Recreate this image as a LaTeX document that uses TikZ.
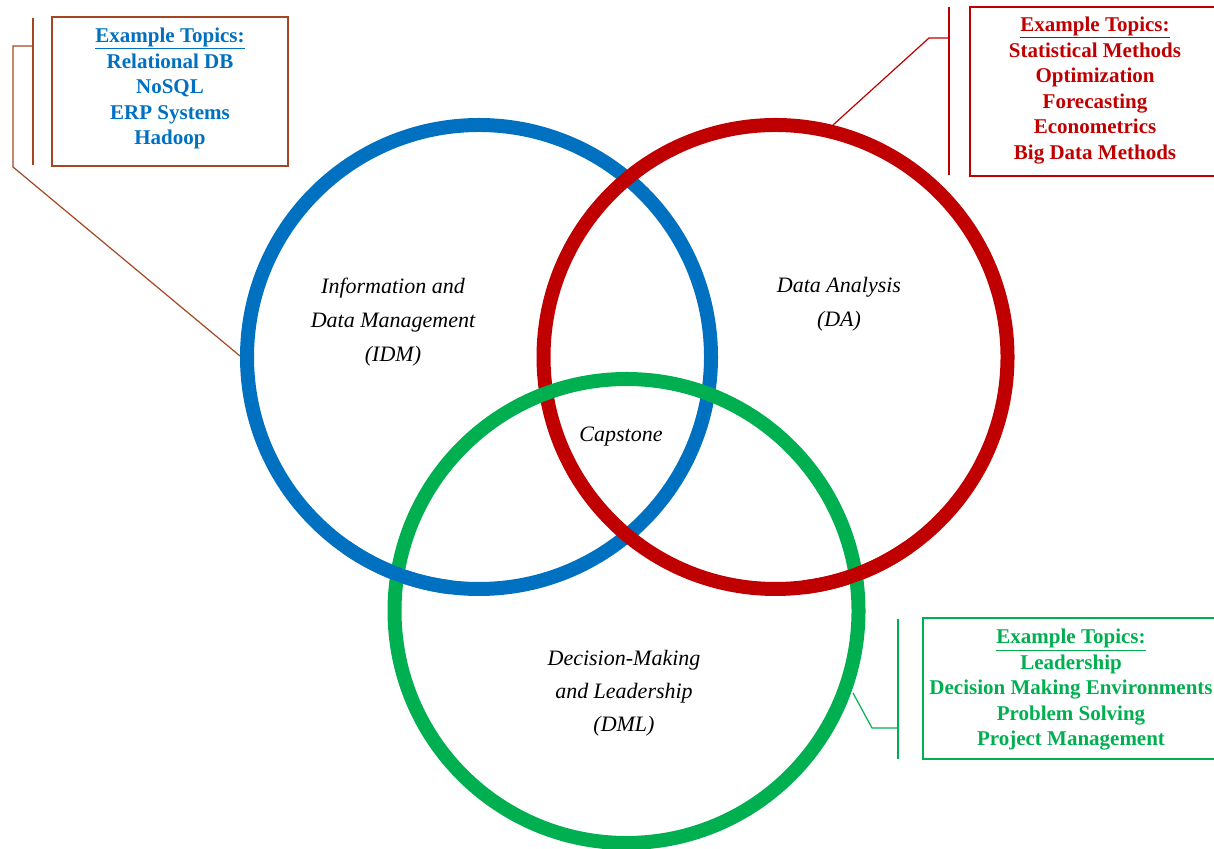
\documentclass[tikz,border=0pt]{standalone}
\usepackage{fontspec}
\setmainfont{Liberation Serif}
\definecolor{idmblue}{RGB}{0,112,192}
\definecolor{dared}{RGB}{192,0,0}
\definecolor{dmlgreen}{RGB}{0,176,80}
\definecolor{brownline}{RGB}{165,70,35}
\tikzset{
  ring/.style={circle, draw=#1, line width=14pt, minimum size=464pt, inner sep=0pt, outer sep=0pt},
  topicbox/.style={draw=#1, line width=1.5pt, inner sep=0pt},
  topictext/.style={text=#1, font=\fontsize{21}{25.5}\selectfont\bfseries, align=center, inner sep=0pt},
  circlabel/.style={font=\fontsize{22}{34}\selectfont\itshape, align=center, inner sep=0pt},
  calloutline/.style={draw=#1, line width=1.2pt},
}
\begin{document}
\begin{tikzpicture}[x=1pt,y=1pt]
\useasboundingbox (0,0) rectangle (1214,848);
% circles
\node[ring=idmblue] (idm) at (479,491) {};
\node[ring=dared] (da) at (775.5,491) {};
\node[ring=dmlgreen] (dml) at (626.5,237) {};
% interlocking redraws
\draw[idmblue, line width=14pt] (idm.center) ++(-125:232) arc[start angle=-125, end angle=-97, radius=232];
\draw[dared, line width=14pt] (da.center) ++(-83:232) arc[start angle=-83, end angle=-55, radius=232];

% circle labels
\node[circlabel] (idmlab) at (393,526) {Information and\\Data Management\\(IDM)};
\node[circlabel] (dalab) at (839,543.5) {Data Analysis\\(DA)};
\node[circlabel] (caplab) at (621,411) {Capstone};
\node[circlabel, font=\fontsize{22}{33}\selectfont\itshape] (dmllab) at (624,155) {Decision-Making\\and Leadership\\(DML)};

% IDM callout
\node[topicbox=brownline, minimum width=236pt, minimum height=149pt] (idmbox) at (170,756.5) {};
\node[topictext=idmblue] (idmtxt) at (170,759.5) {\underline{Example Topics:}\\Relational DB\\NoSQL\\ERP Systems\\Hadoop};
\coordinate (idmbarT) at (33,830);
\coordinate (idmbarB) at (33,683);
\coordinate (idmbarM) at (33,802);
\coordinate (idmelb) at (13,802);
\coordinate (idmelb2) at (13,681);
\coordinate (idmtip) at (240,492);
\draw[calloutline=brownline] (idmbarT) -- (idmbarB);
\draw[calloutline=brownline] (idmbarM) -- (idmelb) -- (idmelb2) -- (idmtip);

% DA callout
\node[topicbox=dared, minimum width=245pt, minimum height=169pt] (dabox) at (1092.5,756.5) {};
\node[topictext=dared] (datxt) at (1095,757.5) {\underline{Example Topics:}\\Statistical Methods\\Optimization\\Forecasting\\Econometrics\\Big Data Methods};
\coordinate (dabarT) at (949,841);
\coordinate (dabarB) at (949,673);
\coordinate (dabarM) at (949,810);
\coordinate (daelb) at (929,810);
\coordinate (datip) at (833,723);
\draw[calloutline=dared] (dabarT) -- (dabarB);
\draw[calloutline=dared] (dabarM) -- (daelb) -- (datip);

% DML callout
\node[topicbox=dmlgreen, minimum width=292pt, minimum height=141pt] (dmlbox) at (1069,159.5) {};
\node[topictext=dmlgreen] (dmltxt) at (1071,158) {\underline{Example Topics:}\\Leadership\\Decision Making Environments\\Problem Solving\\Project Management};
\coordinate (dmlbarT) at (898,229);
\coordinate (dmlbarB) at (898,89);
\coordinate (dmlbarM) at (898,120);
\coordinate (dmlelb) at (872,120);
\coordinate (dmltip) at (853,155);
\draw[calloutline=dmlgreen] (dmlbarT) -- (dmlbarB);
\draw[calloutline=dmlgreen] (dmlbarM) -- (dmlelb) -- (dmltip);
\end{tikzpicture}
\end{document}
